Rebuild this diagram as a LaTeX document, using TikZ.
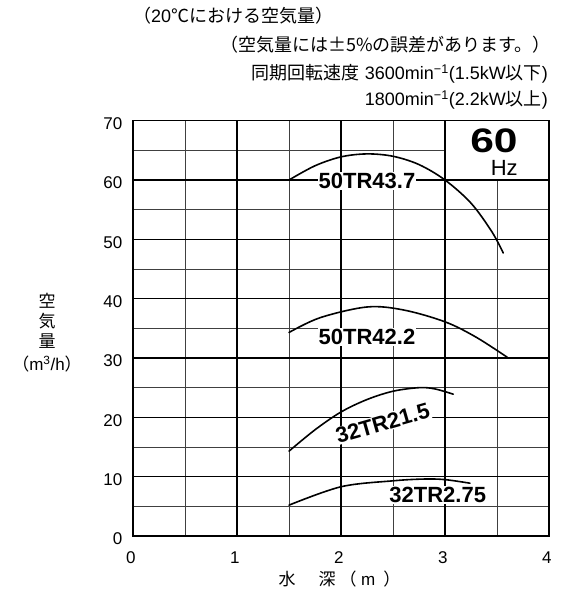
\documentclass[tikz,border=0pt]{standalone}
\usepackage{fontspec}
\setmainfont{Liberation Sans}
\newfontfamily\jp{Noto Sans CJK JP}
\begin{document}
\begin{tikzpicture}[x=1pt,y=1pt,
  major/.style={line width=1.1pt, black},
  minor/.style={line width=0.8pt, black!75},
  curve/.style={line width=1.6pt, line cap=round},
  clabel/.style={font=\fontsize{22}{22}\selectfont\bfseries, fill=white, inner sep=1pt},
  txt/.style={font=\fontsize{17}{17}\selectfont, inner sep=0pt},
  htxt/.style={font=\fontsize{18}{18}\selectfont, inner sep=0pt},
]
\useasboundingbox (0,0) rectangle (576,593);
% header texts
\node[htxt, anchor=west] (h1) at (133,577) {{\jp （}20{\jp ℃における空気量）}};
\node[htxt, anchor=east] (h2) at (551,548) {\jp （空気量には±5\%の誤差があります。）};
\node[htxt, anchor=east] (h3) at (548,519) {{\jp 同期回転速度} 3600min\textsuperscript{−1}(1.5kW{\jp 以下})};
\node[htxt, anchor=east] (h4) at (548,493) {1800min\textsuperscript{−1}(2.2kW{\jp 以上})};
% y axis label
\node[txt] (ya1) at (47,292) {\jp 空};
\node[txt] (ya2) at (47,272) {\jp 気};
\node[txt] (ya3) at (47,252) {\jp 量};
\node[txt] (ya4) at (47,229) {{\jp （}m\textsuperscript{3}/h{\jp ）}};
% x axis label
\node[txt, anchor=west] (xa) at (278.5,14) {{\jp 水}\hspace{23pt}{\jp 深}\hspace{4pt}{\jp （}\hspace{4.5pt}m\hspace{8pt}{\jp ）}};
\begin{scope}[shift={(133pt,57pt)}, x=104pt, y=5.933pt]
  % minor grid
  \foreach \u in {0.5,1.5,2.5} \draw[minor] (\u,0) -- (\u,70);
  \draw[minor] (3.5,0) -- (3.5,60);
  \foreach \v in {5,15,25,35,45,55} \draw[minor] (0,\v) -- (4,\v);
  \draw[minor] (0,65) -- (3,65);
  % major grid
  \foreach \u in {1,2,3} \draw[major] (\u,0) -- (\u,70);
  \foreach \v in {10,20,30,40,50,60} \draw[major] (0,\v) -- (4,\v);
  \draw[major] (0,0) rectangle (4,70);
  % ticks
  \foreach \v in {0,10,20,30,40,50,60,70}
    \node[txt, anchor=east] (yt\v) at (-0.1,\v-0.5) {\v};
  \foreach \u in {0,1,2,3,4}
    \node[txt] (xt\u) at (\u-0.02,-3.7) {\u};
  % 60 Hz
  \node[inner sep=0pt, font=\fontsize{34}{34}\selectfont\bfseries] (hz60) at (3.47,66.6) {\scalebox{1.25}[1]{60}};
  \node[inner sep=0pt, font=\fontsize{22}{22}\selectfont] (hz) at (3.57,62.0) {Hz};
  % curves
  \draw[curve] plot[smooth, tension=0.55] coordinates {(1.5,60) (1.75,62.4) (2.0,63.9) (2.25,64.4) (2.5,64.0) (2.75,62.6) (3.0,60) (3.25,56.1) (3.45,51.3) (3.56,47.7)};
  \draw[curve] plot[smooth, tension=0.55] coordinates {(1.5,34.3) (1.8,36.8) (2.25,38.6) (2.6,38.1) (3.0,36.1) (3.3,33.5) (3.6,30.1)};
  \draw[curve] plot[smooth, tension=0.55] coordinates {(1.5,14.3) (1.75,17.9) (2.0,20.9) (2.25,23.0) (2.5,24.4) (2.75,25.0) (2.9,24.8) (3.08,23.9)};
  \draw[curve] plot[smooth, tension=0.55] coordinates {(1.5,5.2) (2.0,8.3) (2.5,9.3) (2.8,9.6) (3.0,9.5) (3.24,8.9)};
  % curve labels
  \node[clabel] (c1) at (2.25,59.8) {50TR43.7};
  \node[clabel] (c2) at (2.25,33.5) {50TR42.2};
  \node[clabel, rotate=16] (c3) at (2.4,19.0) {32TR21.5};
  \node[clabel] (c4) at (2.93,6.9) {32TR2.75};
\end{scope}
\end{tikzpicture}
\end{document}
